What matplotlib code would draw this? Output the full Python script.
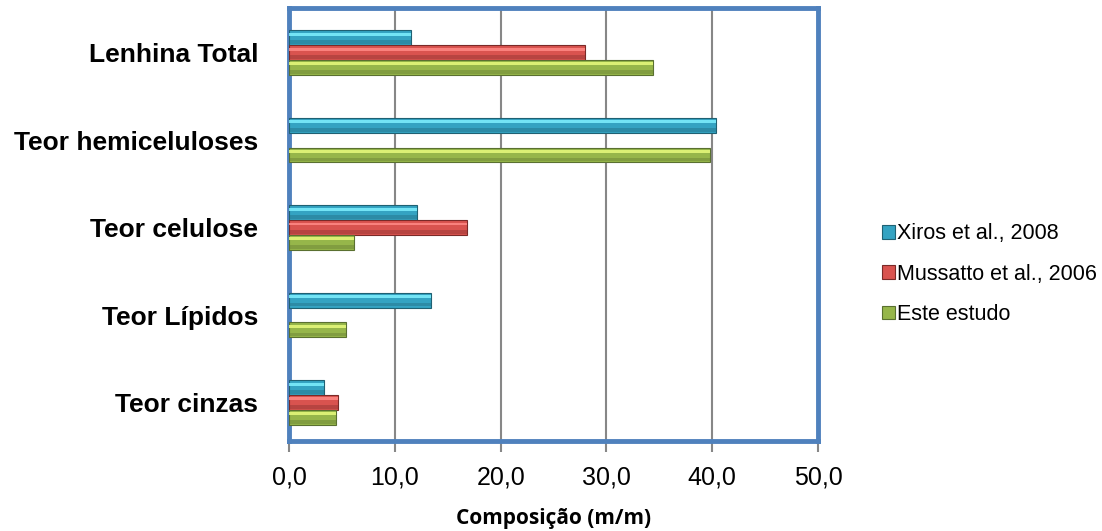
import numpy as np
import matplotlib.pyplot as plt

categorias = ["Teor cinzas", "Teor Lípidos", "Teor celulose", "Teor hemiceluloses", "Lenhina Total"]
series = ["Xiros et al., 2008", "Mussatto et al., 2006", "Este estudo"]
xiros = [3.3, 13.4, 12.1, 40.4, 11.5]
mussatto = [4.6, np.nan, 16.8, np.nan, 28.0]
este = [4.4, 5.4, 6.1, 39.8, 34.4]
xticks = [0, 10, 20, 30, 40, 50]
xtick_labels = ["0,0", "10,0", "20,0", "30,0", "40,0", "50,0"]

cores = ["#34a3c2", "#d9534f", "#96b64a"]
claras = ["#7ff0ff", "#ff8a86", "#e8fb7c"]
escuras = ["#1f6173", "#7a2a28", "#5a7030"]

fig = plt.figure(figsize=(11.02, 5.31), dpi=100)
ax = fig.add_axes([0.2623, 0.1695, 0.480, 0.8154])

y = np.arange(len(categorias))
h = 0.17
offs = [h, 0, -h]
for vals, off, c, cl, esc, nome in zip([xiros, mussatto, este], offs, cores, claras, escuras, series):
    v = np.array(vals, dtype=float)
    ok = ~np.isnan(v)  # Mussatto has gaps, skip them
    yy = y[ok] + off
    ax.barh(yy, v[ok], height=h, color=c, edgecolor=esc, linewidth=0.8, zorder=3, label=nome)
    # simple bevel look: light strip on top, darker strip at the bottom
    ax.barh(yy + h * 0.24, v[ok], height=h * 0.2, color=cl, linewidth=0, zorder=4, alpha=0.85)
    ax.barh(yy - h * 0.3, v[ok], height=h * 0.25, color=esc, linewidth=0, zorder=4, alpha=0.35)

ax.set_xlim(0, 50)
ax.set_ylim(-0.44, 4.51)
ax.set_xticks(xticks)
ax.set_xticklabels(xtick_labels, fontsize=18, family="Liberation Sans")
ax.set_yticks(y)
ax.set_yticklabels(categorias, fontsize=19, fontweight="bold", family="Liberation Sans")
ax.tick_params(axis="y", length=0, pad=22)
ax.tick_params(axis="x", length=8, width=1.5, color="#878787", pad=10)
ax.grid(axis="x", color="#878787", linewidth=1.5, zorder=0)
for s in ax.spines.values():
    s.set_color("#4f81bd")
    s.set_linewidth(3.5)
ax.set_xlabel("Composição (m/m)", fontsize=15, fontweight="bold", family="Open Sans", labelpad=13)

ax.legend(loc="center left", bbox_to_anchor=(1.085, 0.385), frameon=False,
          prop={"family": "Liberation Sans", "size": 15.5}, handlelength=0.6, handleheight=0.6,
          handletextpad=0.1, labelspacing=0.9)

fig.savefig("out.png", dpi=100)
